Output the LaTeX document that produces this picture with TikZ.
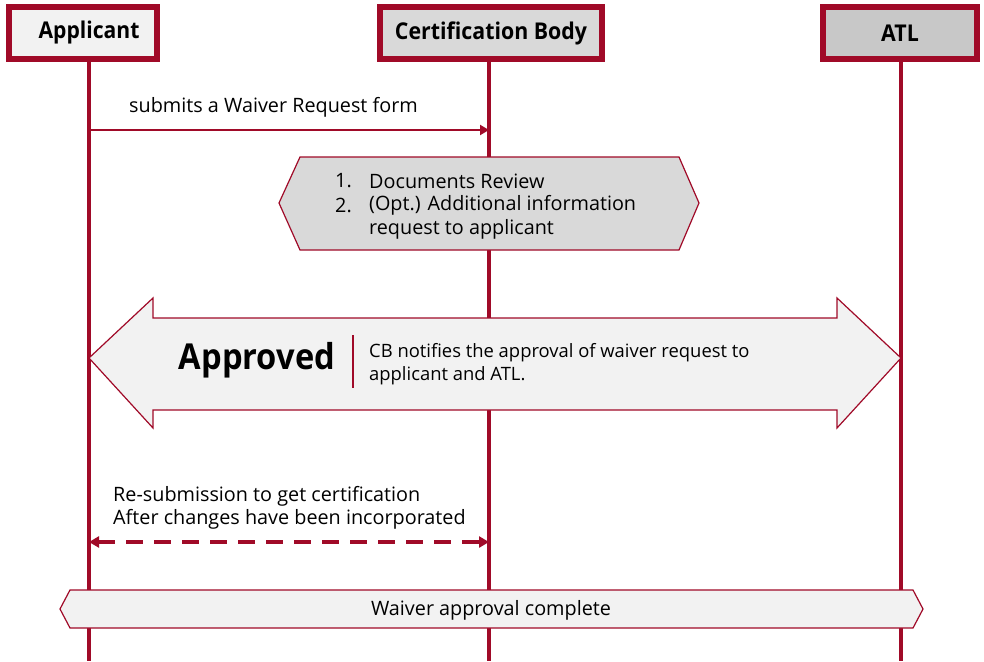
\documentclass[tikz,border=0pt]{standalone}
\usepackage{fontspec}
\setmainfont{Open Sans}
\usetikzlibrary{arrows.meta}
\definecolor{crim}{RGB}{160,10,40}
\definecolor{fillA}{RGB}{242,242,242}
\definecolor{fillB}{RGB}{217,217,217}
\definecolor{fillC}{RGB}{200,200,200}
\tikzset{
  hdr/.style={draw=crim, line width=6pt, inner sep=0pt, font=\fontsize{22}{24}\selectfont\bfseries},
  life/.style={draw=crim, line width=3.5pt},
  msg/.style={draw=crim, line width=2.5pt, -{Triangle[length=9pt,width=10pt]}},
  shp/.style={draw=crim, line width=1.2pt},
  txt/.style={font=\fontsize{19.8}{23.5}\selectfont, inner sep=0pt, align=left}
}
\begin{document}
\begin{tikzpicture}[x=1pt,y=-1pt]
\useasboundingbox (0,0) rectangle (984,661);
% headers
\node[hdr, fill=fillA, minimum width=148pt, minimum height=52pt] (app) at (83,33) {\hspace{12pt}\scalebox{0.96}[1.05]{Applicant}};
\node[hdr, fill=fillB, minimum width=222pt, minimum height=52pt] (cb) at (491,33) {\scalebox{0.97}[1.05]{Certification Body}};
\node[hdr, fill=fillC, minimum width=154pt, minimum height=52pt] (atl) at (900,33) {\scalebox{0.97}[1.05]{ATL}};
\coordinate (appE) at (89,661);
\coordinate (cbE) at (489,661);
\coordinate (atlE) at (901,661);
\draw[life] (app.south -| appE) -- (appE);
\draw[life] (cb.south -| cbE) -- (cbE);
\draw[life] (atl.south -| atlE) -- (atlE);
% message 1
\coordinate (m1a) at (89,130);
\coordinate (m1b) at (489,130);
\draw[msg] (m1a) -- (m1b);
\node[txt, anchor=west] (m1t) at (129,107) {submits a Waiver Request form};
% hexagon
\draw[shp, fill=fillB] (279,203) -- (300,157) -- (679,157) -- (699,203) -- (679,250) -- (300,250) -- cycle;
\node[txt, anchor=west] (n1) at (335,181) {1.};
\node[txt, anchor=west] (n2) at (335,205) {2.};
\node[txt, anchor=west] (h1) at (369,181) {Documents Review};
\node[txt, anchor=west] (h2) at (369,205) {(Opt.) Additional information};
\node[txt, anchor=west] (h3) at (369,229) {request to applicant};
% big double arrow
\draw[shp, fill=fillA] (89,358) -- (153,298) -- (153,318) -- (837,318) -- (837,298) -- (901,358) -- (837,428) -- (837,410) -- (153,410) -- (153,428) -- cycle;
\node[font=\fontsize{34}{36}\selectfont\bfseries, inner sep=0pt] (appr) at (257,360) {\scalebox{0.96}[1.05]{Approved}};
\coordinate (vt) at (353,335);
\coordinate (vb) at (353,388);
\draw[crim, line width=1.5pt] (vt) -- (vb);
\node[txt, anchor=west, font=\fontsize{18.4}{23}\selectfont] (note) at (369,364) {CB notifies the approval of waiver request to\\applicant and ATL.};
% dashed re-submission
\coordinate (d1) at (89,542);
\coordinate (d2) at (489,542);
\draw[draw=crim, line width=4pt, dash pattern=on 17pt off 11pt, {Triangle[length=10pt,width=11pt]}-{Triangle[length=10pt,width=11pt]}] (d1) -- (d2);
\node[txt, anchor=west] (resub) at (113,508) {Re-submission to get certification\\After changes have been incorporated};
% bottom banner
\draw[shp, fill=fillA] (60,609) -- (70,590) -- (913,590) -- (923,609) -- (913,628) -- (70,628) -- cycle;
\node[txt] (done) at (491,610) {Waiver approval complete};
\end{tikzpicture}
\end{document}
